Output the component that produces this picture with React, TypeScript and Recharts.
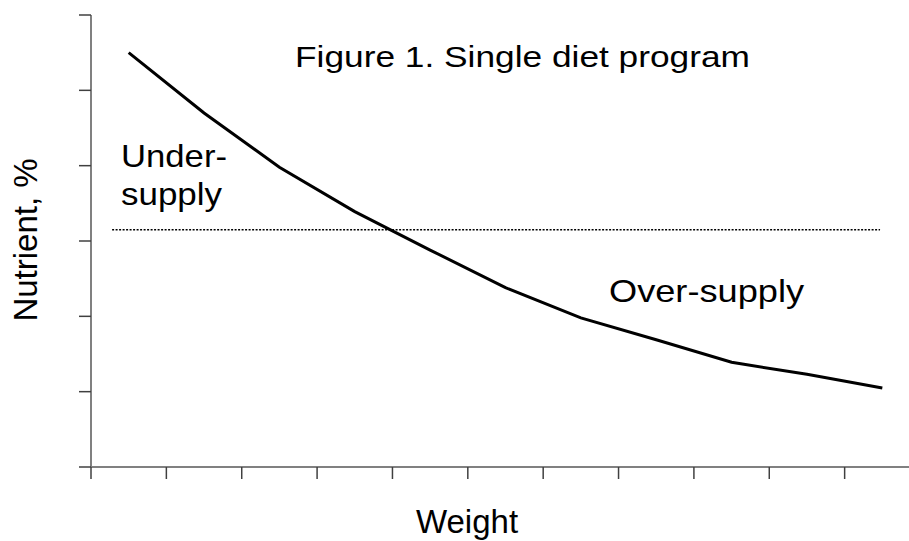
import React from 'react';
import { LineChart, Line, XAxis, YAxis, ReferenceLine } from 'recharts';

// weight classes sit in the middle of each tick interval
const weightSlots = [0.5, 1.5, 2.5, 3.5, 4.5, 5.5, 6.5, 7.5, 8.5, 9.5, 10.5];
const nutrientPct = [5.5, 4.7, 3.98, 3.39, 2.88, 2.38, 1.98, 1.69, 1.39, 1.23, 1.05];
const xTicks = [0, 1, 2, 3, 4, 5, 6, 7, 8, 9, 10, 11];
const yTicks = [0, 1, 2, 3, 4, 5, 6];

// single diet level (dotted)
const dietLevel = 3.15;
const dietSpan = [0.28, 10.47];

const FONT = '"Liberation Sans", Arial, sans-serif';

export default function App() {
  const chartData = weightSlots.map((x, i) => ({ x, nutrient: nutrientPct[i] }));

  return (
    <div
      style={{
        position: 'fixed',
        left: 0,
        top: 0,
        width: 909,
        height: 541,
        overflow: 'hidden',
        background: '#fff',
      }}
    >
      <LineChart
        width={930}
        height={541}
        data={chartData}
        margin={{ top: 15, right: 10, left: 0, bottom: 44 }}
      >
        <XAxis
          type="number"
          dataKey="x"
          domain={[0, 11]}
          ticks={xTicks}
          tickFormatter={() => ''}
          tickSize={12}
          height={30}
          axisLine={{ stroke: '#808080', strokeWidth: 2 }}
          tickLine={{ stroke: '#404040', strokeWidth: 1.5 }}
        />
        <YAxis
          type="number"
          domain={[0, 6]}
          ticks={yTicks}
          tickFormatter={() => ''}
          tickSize={12}
          width={91}
          axisLine={{ stroke: '#808080', strokeWidth: 2 }}
          tickLine={{ stroke: '#404040', strokeWidth: 1.5 }}
        />
        <ReferenceLine
          segment={[
            { x: dietSpan[0], y: dietLevel },
            { x: dietSpan[1], y: dietLevel },
          ]}
          stroke="#000"
          strokeWidth={1.5}
          strokeDasharray="2 1.5"
        />
        <Line
          type="linear"
          dataKey="nutrient"
          stroke="#000"
          strokeWidth={3}
          dot={false}
          activeDot={false}
          isAnimationActive={false}
        />

        <text x={295} y={67} fontFamily={FONT} fontSize={30} fill="#000" textLength={455} lengthAdjust="spacingAndGlyphs">
          Figure 1. Single diet program
        </text>
        <text x={121} y={167} fontFamily={FONT} fontSize={32} fill="#000" textLength={106} lengthAdjust="spacingAndGlyphs">
          Under-
        </text>
        <text x={121} y={205} fontFamily={FONT} fontSize={32} fill="#000" textLength={101} lengthAdjust="spacingAndGlyphs">
          supply
        </text>
        <text x={609} y={302} fontFamily={FONT} fontSize={32} fill="#000" textLength={195} lengthAdjust="spacingAndGlyphs">
          Over-supply
        </text>
        <text
          transform="translate(37,240) rotate(-90)"
          textAnchor="middle"
          fontFamily={FONT}
          fontSize={33}
          fill="#000"
        >
          Nutrient, %
        </text>
        <text x={467} y={533} textAnchor="middle" fontFamily={FONT} fontSize={33} fill="#000">
          Weight
        </text>
      </LineChart>
    </div>
  );
}
